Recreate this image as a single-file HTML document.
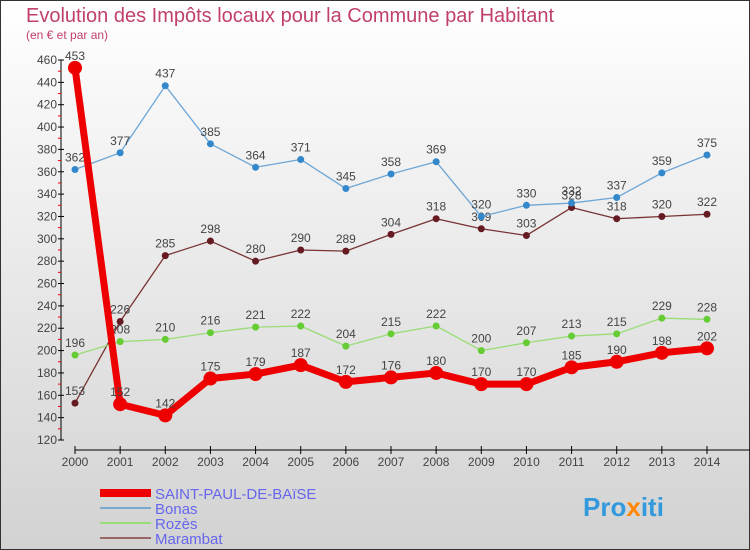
<!DOCTYPE html>
<html><head><meta charset="utf-8"><style>
body{margin:0;width:750px;height:550px;overflow:hidden;font-family:"Liberation Sans",sans-serif}
svg{display:block}
</style></head><body>
<svg id="c" width="750" height="550">
<defs><linearGradient id="bg" x1="0" y1="0" x2="0" y2="1"><stop offset="0" stop-color="#ffffff"/><stop offset="1" stop-color="#d2d2d2"/></linearGradient></defs>
<rect x="0.5" y="0.5" width="749" height="549" fill="url(#bg)" stroke="#333"/>
<text x="26" y="22" font-size="20" fill="#c0406a">Evolution des Impôts locaux pour la Commune par Habitant</text>
<text x="26" y="39" font-size="12" fill="#c0406a">(en € et par an)</text>
<g id="axes"></g><g id="series"></g>
<g>
<rect x="100" y="489" width="51" height="8" fill="#e00"/>
<text x="155" y="499" font-size="15" fill="#6666ee">SAINT-PAUL-DE-BAïSE</text>
<rect x="100" y="507" width="51" height="2" fill="#7aaad0"/>
<text x="155" y="514" font-size="15" fill="#6666ee">Bonas</text>
<rect x="100" y="522" width="51" height="2" fill="#99dd77"/>
<text x="155" y="529" font-size="15" fill="#6666ee">Rozès</text>
<rect x="100" y="537" width="51" height="2" fill="#996666"/>
<text x="155" y="544" font-size="15" fill="#6666ee">Marambat</text>
</g>
<text x="583" y="516" font-size="26" font-weight="bold" fill="#3399dd">Pro<tspan fill="#ff8800">x</tspan>iti</text>
</svg>
<script>
const years=[2000,2001,2002,2003,2004,2005,2006,2007,2008,2009,2010,2011,2012,2013,2014];
const saintPaul=[453,152,142,175,179,187,172,176,180,170,170,185,190,198,202];
const bonas=[362,377,437,385,364,371,345,358,369,320,330,332,337,359,375];
const rozes=[196,208,210,216,221,222,204,215,222,200,207,213,215,229,228];
const marambat=[153,226,285,298,280,290,289,304,318,309,303,328,318,320,322];
const yTicks=[120,140,160,180,200,220,240,260,280,300,320,340,360,380,400,420,440,460];
const NS='http://www.w3.org/2000/svg';
const X=i=>75+i*(707-75)/(years.length-1);
const Y=v=>440-(v-120)*(380/340);
function el(t,a,p){const e=document.createElementNS(NS,t);for(const k in a)e.setAttribute(k,a[k]);p.appendChild(e);return e;}
const ax=document.getElementById('axes'),sg=document.getElementById('series');
const yl=el('line',{x1:61,y1:Y(460),x2:61,y2:440,stroke:'#000'},ax);


yTicks.forEach(v=>{
 el('line',{x1:58,x2:64,y1:Y(v),y2:Y(v),stroke:'#000'},ax);
 if(v<460) el('line',{x1:58,x2:61,y1:Y(v+10),y2:Y(v+10),stroke:'#e00'},ax);
 const t=el('text',{x:57,y:Y(v)+4,'font-size':12,fill:'#444','text-anchor':'end'},ax);
 t.textContent=v;
 
 
});
const xl=el('line',{x1:75,y1:450,x2:750,y2:450,stroke:'#000'},ax);


years.forEach((y,i)=>{
 el('line',{x1:X(i),x2:X(i),y1:446,y2:454,stroke:'#000'},ax);
 const t=el('text',{x:X(i),y:466,'font-size':12,fill:'#444','text-anchor':'middle'},ax);
 t.textContent=y;
 
 
});
function series(d,name,col,w,r,dot){
 const g=el('g',{},sg);
 
 
 el('polyline',{points:d.map((v,i)=>X(i)+','+Y(v)).join(' '),fill:'none',stroke:col,'stroke-width':w,'stroke-linejoin':'round'},g);
 d.forEach((v,i)=>{
  const c=el('circle',{cx:X(i),cy:Y(v),r:r,fill:dot},g);
  
  
  const t=el('text',{x:X(i),y:Y(v)-8,'font-size':12,fill:'#444','text-anchor':'middle'},g);
  t.textContent=v;
  
  
 });
}
series(marambat,'marambat','#773333',1.3,3.5,'#661a22');
series(rozes,'rozes','#99dd77',1.3,3.5,'#66cc33');
series(bonas,'bonas','#6ea6d6',1.3,3.5,'#3388cc');
series(saintPaul,'saint-paul','#ee0000',7,7,'#ee0000');
</script>
</body></html>
